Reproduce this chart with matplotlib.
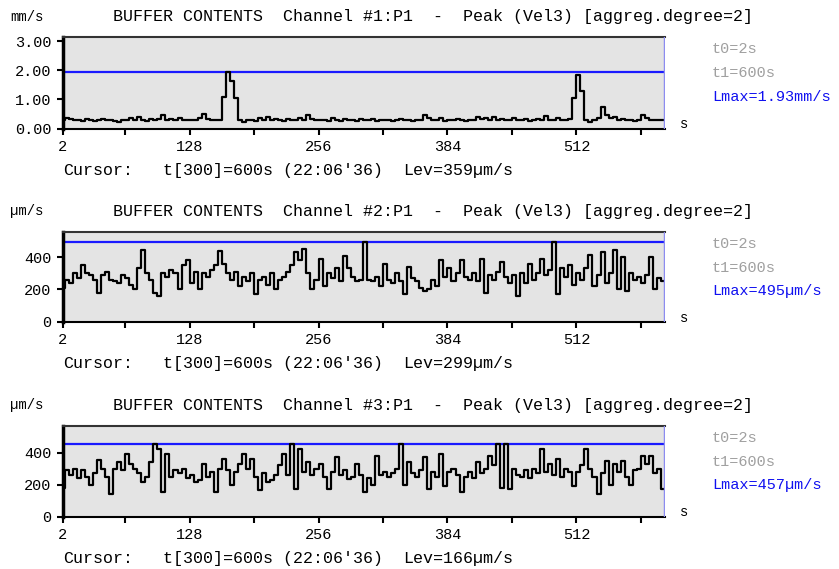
import numpy as np
import matplotlib
matplotlib.use("Agg")
import matplotlib.pyplot as plt

# --------------------------------------------------------------------------- #
# Data (one value every 4 s, t = 2 .. 598 s)
t_sec = np.arange(2, 600, 4)

ch1_mms = [0.30, 0.35, 0.32, 0.28, 0.30, 0.27, 0.32, 0.30, 0.25, 0.30, 0.33, 0.28, 0.30, 0.26, 0.24, 0.30,
           0.28, 0.35, 0.30, 0.38, 0.30, 0.26, 0.32, 0.28, 0.33, 0.45, 0.30, 0.32, 0.28, 0.35, 0.30, 0.30,
           0.30, 0.28, 0.35, 0.50, 0.32, 0.28, 0.30, 0.28, 1.10, 1.93, 1.65, 1.05, 0.30, 0.22, 0.30, 0.28,
           0.25, 0.35, 0.30, 0.40, 0.28, 0.33, 0.30, 0.26, 0.32, 0.30, 0.28, 0.35, 0.30, 0.45, 0.33, 0.30,
           0.30, 0.28, 0.25, 0.35, 0.30, 0.26, 0.32, 0.28, 0.30, 0.25, 0.33, 0.28, 0.30, 0.32, 0.26, 0.30,
           0.28, 0.30, 0.25, 0.30, 0.32, 0.28, 0.30, 0.26, 0.30, 0.28, 0.45, 0.35, 0.30, 0.28, 0.35, 0.25,
           0.30, 0.28, 0.32, 0.30, 0.26, 0.30, 0.28, 0.40, 0.32, 0.35, 0.28, 0.38, 0.30, 0.32, 0.28, 0.30,
           0.35, 0.28, 0.30, 0.32, 0.26, 0.30, 0.33, 0.30, 0.42, 0.30, 0.28, 0.35, 0.30, 0.28, 0.32, 1.05,
           1.83, 1.30, 0.30, 0.22, 0.30, 0.35, 0.75, 0.45, 0.35, 0.38, 0.30, 0.32, 0.28, 0.30, 0.25, 0.30,
           0.45, 0.35, 0.30, 0.30, 0.30, 0.30]

ch2_ums = [210, 260, 240, 300, 270, 350, 300, 290, 260, 180, 290, 310, 260, 250, 240, 290,
           270, 230, 200, 330, 447, 300, 260, 180, 158, 300, 280, 320, 300, 200, 350, 380,
           240, 310, 200, 300, 280, 320, 350, 440, 360, 300, 260, 310, 220, 280, 250, 300,
           170, 260, 280, 230, 300, 200, 260, 280, 310, 350, 432, 380, 453, 300, 200, 260,
           390, 220, 300, 270, 330, 250, 405, 330, 280, 250, 260, 495, 260, 250, 280, 220,
           359, 260, 240, 300, 250, 169, 338, 270, 250, 210, 190, 200, 260, 220, 380, 280,
           330, 250, 300, 380, 280, 260, 300, 250, 390, 180, 290, 260, 310, 370, 280, 240,
           290, 158, 300, 240, 359, 260, 300, 390, 290, 320, 495, 169, 330, 280, 350, 230,
           300, 260, 330, 411, 220, 290, 432, 240, 300, 443, 200, 400, 190, 300, 260, 280,
           240, 290, 400, 200, 270, 250]

ch3_ums = [180, 290, 260, 300, 240, 290, 250, 200, 270, 351, 300, 250, 143, 300, 340, 290,
           393, 330, 300, 270, 216, 250, 340, 457, 420, 154, 393, 250, 290, 270, 300, 240,
           260, 216, 230, 330, 250, 280, 154, 300, 362, 290, 195, 280, 330, 393, 300, 360,
           250, 164, 270, 216, 230, 260, 320, 393, 260, 457, 175, 424, 280, 340, 258, 300,
           330, 250, 175, 280, 372, 260, 290, 237, 250, 330, 260, 154, 240, 195, 382, 260,
           280, 250, 270, 300, 457, 195, 341, 270, 250, 290, 372, 175, 280, 250, 393, 190,
           280, 300, 260, 154, 250, 280, 240, 340, 270, 300, 382, 320, 457, 180, 457, 175,
           300, 260, 250, 290, 240, 300, 270, 424, 280, 330, 260, 360, 250, 300, 280, 190,
           280, 320, 424, 300, 250, 143, 270, 345, 200, 330, 280, 345, 250, 200, 290, 300,
           382, 330, 380, 270, 300, 175]

series = [ch1_mms, ch2_ums, ch3_ums]
units = ["mm/s", "µm/s", "µm/s"]
lmax_vals = [1.93, 495, 457]
lmax_texts = ["Lmax=1.93mm/s", "Lmax=495µm/s", "Lmax=457µm/s"]
lev_texts = ["Lev=359µm/s", "Lev=299µm/s", "Lev=166µm/s"]
y_tops = [3.15, 560, 570]
y_ticks = [[0, 1, 2, 3], [0, 200, 400], [0, 200, 400]]
y_ticklabels = [["0.00", "1.00", "2.00", "3.00"], ["0", "200", "400"], ["0", "200", "400"]]
x_ticks = [2, 128, 256, 384, 512]
x_minor = [64, 192, 320, 448, 576]

# --------------------------------------------------------------------------- #
W, H = 839, 569
fig = plt.figure(figsize=(W / 100, H / 100), dpi=100)
plt.rcParams['font.family'] = ['Liberation Mono', 'DejaVu Sans Mono']


def px(x, y):
    return x / W, 1 - y / H


panel_top = [37, 231.5, 425.5]     # pixel rows of each plot box
panel_bot = [128.5, 321.5, 516.5]
left, right = 62.7, 665

for i in range(3):
    top, bot = panel_top[i], panel_bot[i]
    ax = fig.add_axes([left / W, 1 - bot / H, (right - left) / W, (bot - top) / H])
    ax.set_facecolor("#e4e4e4")
    ax.plot(t_sec, series[i], color="black", lw=1.6, drawstyle="steps-mid", zorder=3)
    ax.axhline(lmax_vals[i], color="#1a1aff", lw=1.6, zorder=2)
    ax.axvline(600, color="#8c8cf0", lw=2.5, zorder=4)
    ax.set_xlim(2, 600)
    ax.set_ylim(0, y_tops[i])

    ax.set_yticks(y_ticks[i])
    ax.set_yticklabels(y_ticklabels[i], fontsize=11)
    ax.set_xticks(x_ticks)
    ax.set_xticklabels([str(v) for v in x_ticks], fontsize=11)
    ax.set_xticks(x_minor, minor=True)
    ax.tick_params(direction="out", length=4, width=1.5, pad=4)
    ax.tick_params(which="minor", direction="out", length=4, width=1.5)

    ax.spines["left"].set_linewidth(2.5)
    ax.spines["top"].set_linewidth(1.5)
    ax.spines["top"].set_color("#333333")
    ax.spines["bottom"].set_linewidth(1.5)
    ax.spines["right"].set_visible(False)

    # texts around the panel
    fig.text(*px(10, top - 20), units[i], fontsize=10, va="center", ha="left")
    fig.text(*px(113, top - 20),
             "BUFFER CONTENTS  Channel #%d:P1  -  Peak (Vel3) [aggreg.degree=2]" % (i + 1),
             fontsize=12, va="center", ha="left")
    fig.text(*px(712, top + 12), "t0=2s", fontsize=11, color="#a0a0a0", va="center")
    fig.text(*px(712, top + 36), "t1=600s", fontsize=11, color="#a0a0a0", va="center")
    fig.text(*px(712, top + 60), lmax_texts[i], fontsize=11, color="#1010f0", va="center")
    fig.text(*px(680, bot - 4), "s", fontsize=10, va="center")
    fig.text(*px(63, bot + 42), "Cursor:", fontsize=12, va="center")
    fig.text(*px(163, bot + 42), "t[300]=600s (22:06'36)", fontsize=12, va="center")
    fig.text(*px(403, bot + 42), lev_texts[i], fontsize=12, va="center")

fig.savefig("out.png", dpi=100)
